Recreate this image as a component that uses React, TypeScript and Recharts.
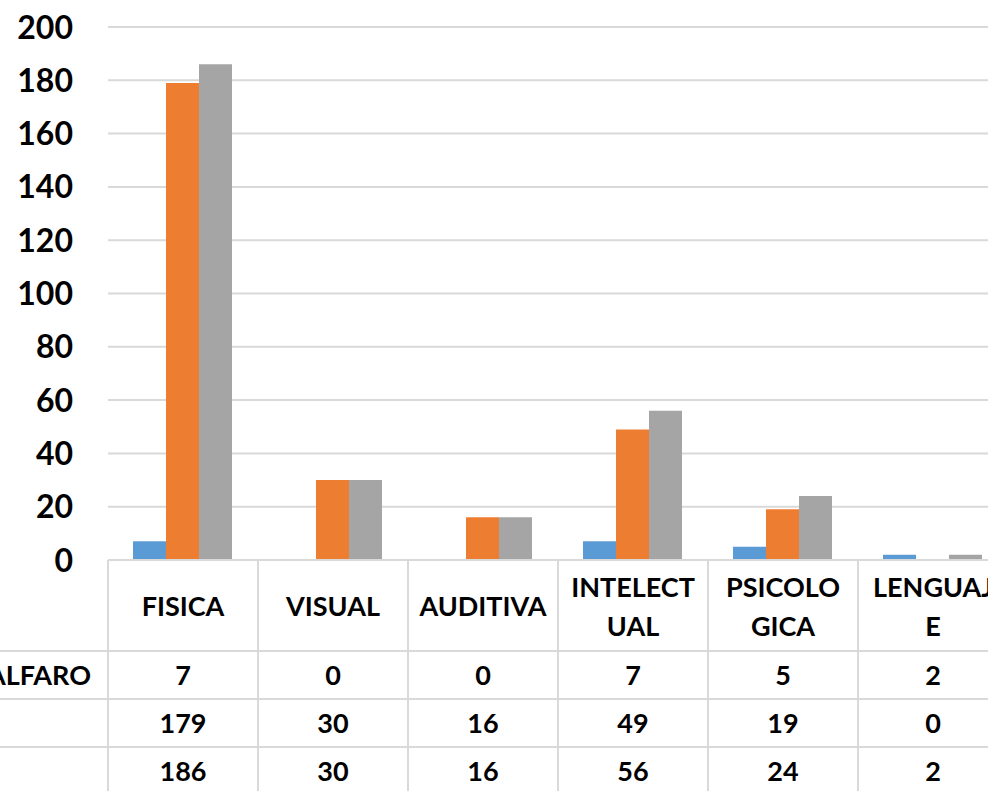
import React from "react";
import { BarChart, Bar, XAxis, YAxis, CartesianGrid } from "recharts";

const categories = ["FISICA", "VISUAL", "AUDITIVA", "INTELECTUAL", "PSICOLOGICA", "LENGUAJE"];
const categoryLines = [["FISICA"], ["VISUAL"], ["AUDITIVA"], ["INTELECT", "UAL"], ["PSICOLO", "GICA"], ["LENGUAJ", "E"]];
const seriesAlfaro = [7, 0, 0, 7, 5, 2];
const seriesSecond = [179, 30, 16, 49, 19, 0];
const seriesThird = [186, 30, 16, 56, 24, 2];
const seriesLabels = ["ALFARO", "", ""];
const seriesKeys = ["s1", "s2", "s3"];
const seriesColors = ["#5b9bd5", "#ed7d31", "#a5a5a5"];
const yTicks = [0, 20, 40, 60, 80, 100, 120, 140, 160, 180, 200];

const data = categories.map((c, i) => ({
  name: c,
  s1: seriesAlfaro[i],
  s2: seriesSecond[i],
  s3: seriesThird[i],
}));

const FONT = "Lato, 'Open Sans', sans-serif";
const GRID = "#d9d9d9";
const TABLE_FS = 27;
const ROW_H = 48;
const HEADER_H = 91;

const YTick = (props: any) => {
  const { x, y, payload } = props;
  return (
    <text x={x} y={y + 11.5} textAnchor="end" fontFamily={FONT} fontWeight={700} fontSize={32} fill="#000">
      {payload.value}
    </text>
  );
};

const TableCell = (props: any) => {
  const { x, y, payload, index, width } = props;
  const half = width / categories.length / 2;
  const left = x - half;
  const right = x + half;
  const lines = categoryLines[index] || [payload.value];
  const rowVals = [seriesAlfaro, seriesSecond, seriesThird];
  const totalH = HEADER_H + ROW_H * 3 + 10;
  const els: any[] = [];
  // vertical line at left of cell
  els.push(<line key="vl" x1={left} x2={left} y1={y} y2={y + totalH} stroke={GRID} strokeWidth={2} />);
  if (index === categories.length - 1) {
    els.push(<line key="vr" x1={right} x2={right} y1={y} y2={y + totalH} stroke={GRID} strokeWidth={2} />);
  }
  // horizontal row lines
  for (let r = 0; r < 3; r++) {
    const ly = y + HEADER_H + r * ROW_H;
    els.push(
      <line key={"h" + r} x1={index === 0 ? 0 : left} x2={right} y1={ly} y2={ly} stroke={GRID} strokeWidth={2} />
    );
  }
  // header text
  if (lines.length === 1) {
    els.push(
      <text key="t0" x={x} y={y + 55.5} textAnchor="middle" fontFamily={FONT} fontWeight={700} fontSize={TABLE_FS} fill="#000">
        {lines[0]}
      </text>
    );
  } else {
    lines.forEach((ln: string, k: number) => {
      els.push(
        <text key={"t" + k} x={x} y={y + 36.5 + k * 39} textAnchor="middle" fontFamily={FONT} fontWeight={700} fontSize={TABLE_FS} fill="#000">
          {ln}
        </text>
      );
    });
  }
  // values
  rowVals.forEach((arr, r) => {
    els.push(
      <text key={"v" + r} x={x} y={y + HEADER_H + r * ROW_H + 34} textAnchor="middle" fontFamily={FONT} fontWeight={700} fontSize={TABLE_FS} fill="#000">
        {arr[index]}
      </text>
    );
  });
  // row labels
  if (index === 0) {
    seriesLabels.forEach((lab, r) => {
      if (!lab) return;
      els.push(
        <text key={"l" + r} x={left - 17} y={y + HEADER_H + r * ROW_H + 34} textAnchor="end" fontFamily={FONT} fontWeight={700} fontSize={TABLE_FS} fill="#000">
          {lab}
        </text>
      );
    });
  }
  return <g>{els}</g>;
};

export default function App() {
  return (
    <div style={{ position: "absolute", left: 0, top: 0, width: 988, height: 791, overflow: "hidden", background: "#fff" }}>
      <BarChart
        width={1008}
        height={791}
        data={data}
        margin={{ top: 27, right: 0, bottom: 0, left: 0 }}
        barCategoryGap="16.67%"
        barGap={0}
        style={{ overflow: "visible" }}
      >
        <CartesianGrid horizontal={true} vertical={false} stroke={GRID} strokeWidth={2} />
        <YAxis
          domain={[0, 200]}
          ticks={yTicks}
          width={108}
          axisLine={false}
          tickLine={false}
          tickSize={0}
          tickMargin={35}
          tick={<YTick />}
          interval={0}
        />
        <XAxis
          dataKey="name"
          height={231}
          axisLine={{ stroke: GRID, strokeWidth: 2 }}
          tickLine={false}
          tickSize={0}
          tickMargin={0}
          interval={0}
          tick={<TableCell />}
        />
        {seriesKeys.map((k, i) => (
          <Bar key={k} dataKey={k} name={seriesLabels[i] || k} fill={seriesColors[i]} isAnimationActive={false} />
        ))}
      </BarChart>
    </div>
  );
}
